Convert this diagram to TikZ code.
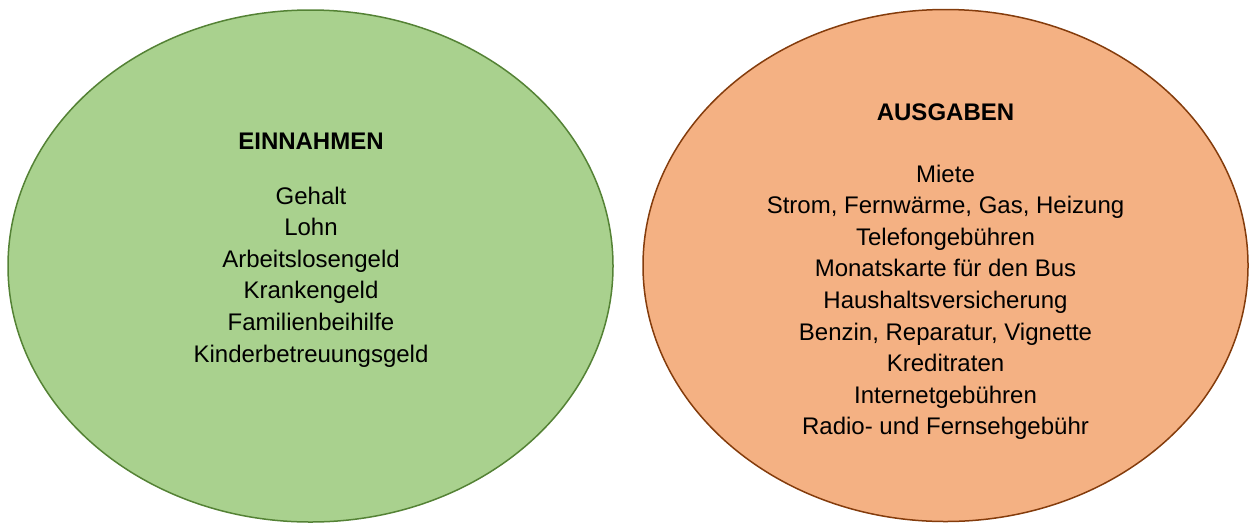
\documentclass[tikz,border=0pt]{standalone}
\usepackage{fontspec}
\setmainfont{Liberation Sans}
\usetikzlibrary{shapes.geometric}
\definecolor{einfill}{HTML}{A9D18E}
\definecolor{eindraw}{HTML}{548235}
\definecolor{ausfill}{HTML}{F4B183}
\definecolor{ausdraw}{HTML}{843C0C}
\begin{document}
\begin{tikzpicture}[x=1pt,y=-1pt]
        \tikzstyle{topf}=[ellipse,line width=1.5pt,minimum width=605pt,minimum height=512pt,inner sep=0pt]
        \tikzstyle{liste}=[align=center,anchor=north,inner sep=0pt,font=\fontsize{24}{31.6}\selectfont]
        \useasboundingbox (0,0) rectangle (1249,523);
        % Einnahmen links
        \node [topf,draw=eindraw,fill=einfill] (ein) at (310.5,266) {};
        \node [liste] (einliste) at (311,132.4) {\textbf{EINNAHMEN}\\[23.4pt]
          Gehalt\\ Lohn\\ Arbeitslosengeld\\ Krankengeld\\ Familienbeihilfe\\ Kinderbetreuungsgeld};
        % Ausgaben rechts
        \node [topf,draw=ausdraw,fill=ausfill] (aus) at (945.5,265.5) {};
        \node [liste] (ausliste) at (945.5,103.2) {\textbf{AUSGABEN}\\[30.4pt]
          Miete\\ Strom, Fernwärme, Gas, Heizung\\ Telefongebühren\\ Monatskarte für den Bus\\
          Haushaltsversicherung\\ Benzin, Reparatur, Vignette\\ Kreditraten\\ Internetgebühren\\
          Radio- und Fernsehgebühr};
\end{tikzpicture}
\end{document}
